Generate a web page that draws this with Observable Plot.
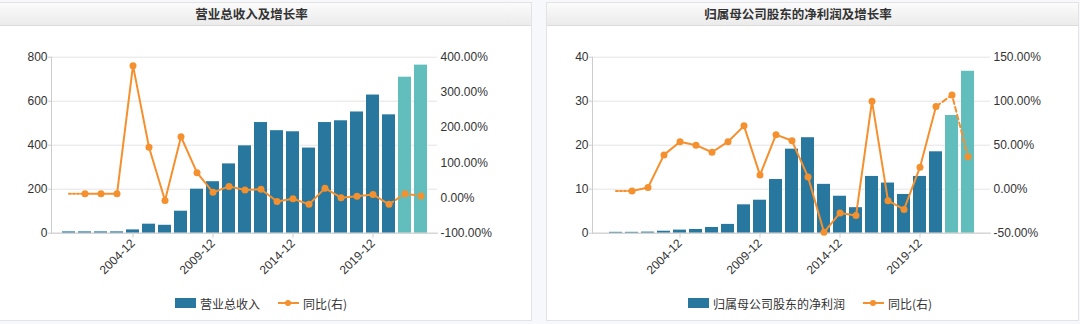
<!DOCTYPE html>
<html>
<head>
<meta charset="utf-8">
<script src="https://cdn.jsdelivr.net/npm/d3@7"></script>
<script src="https://cdn.jsdelivr.net/npm/@observablehq/plot@0.6"></script>
<style>
  html, body { margin: 0; padding: 0; background: #f6f8fb; }
  body { width: 1080px; height: 324px; position: relative; overflow: hidden;
         font-family: "Liberation Sans", Arial, "Noto Sans CJK SC", sans-serif; color: #333; }
  .panel { position: absolute; top: 2px; height: 319px; background: #fff; border: 1px solid #e3e3e3; box-sizing: border-box; }
  .title { position: absolute; left: 0; right: 0; top: 0; height: 23px; line-height: 22px; text-align: center;
           background: linear-gradient(#fbfbfb, #ebebeb); border-bottom: 1px solid #dcdcdc;
           font-family: "Noto Sans CJK SC", sans-serif; font-size: 12.5px; font-weight: bold; color: #333; box-sizing: border-box; }
  .chart { position: absolute; top: 23px; left: 0; }
  .legend { position: absolute; top: 294px; height: 18px; display: flex; align-items: center; font-size: 12px;
            font-family: "Noto Sans CJK SC", sans-serif; color: #333; white-space: nowrap; }
  .sw { width: 21px; height: 10px; display: inline-block; margin-right: 4px; }
  .ln { width: 21px; height: 10px; display: inline-block; margin-right: 4px; position: relative; }
  .ln::before { content: ""; position: absolute; left: 0; right: 0; top: 4px; height: 2px; background: #f5902e; }
  .ln::after { content: ""; position: absolute; left: 7px; top: 2px; width: 6px; height: 6px; border-radius: 50%; background: #f5902e; }
  .gap { width: 18px; display: inline-block; }
</style>
</head>
<body>
<div class="panel" id="p1" style="left:-1px; width:533px;">
  <div class="title" style="padding-right:28px;">营业总收入及增长率</div>
  <div class="chart" id="c1"></div>
</div>
<div class="legend" style="left:175px;"><span class="sw" style="background:#28779f"></span>营业总收入<span class="gap"></span><span class="ln"></span>同比(右)</div>
<div class="panel" id="p2" style="left:546px; width:533px;">
  <div class="title" style="padding-right:29px;">归属母公司股东的净利润及增长率</div>
  <div class="chart" id="c2"></div>
</div>
<div class="legend" style="left:688px;"><span class="sw" style="background:#28779f"></span>归属母公司股东的净利润<span class="gap"></span><span class="ln"></span>同比(右)</div>

<script>
// ---- data ----
const years = ["2000-12","2001-12","2002-12","2003-12","2004-12","2005-12","2006-12","2007-12","2008-12","2009-12",
               "2010-12","2011-12","2012-12","2013-12","2014-12","2015-12","2016-12","2017-12","2018-12","2019-12",
               "2020-12","2021-12","2022-12"];
const forecastYears = ["2021-12","2022-12"];
const tickYears = ["2004-12","2009-12","2014-12","2019-12"];

const revenue = [6,6,6,6,15,41,36,100,200,234,315,397,503,466,461,387,503,511,551,628,538,709,764];
const revenueGrowth = [null,12,12,12,376,144,-7,174,72,16,33,23,25,-10,-2,-18,28,1,5,10,-18,12,6];
const revenueLeftTicks = [0,200,400,600,800];
const revenueRightTicks = [-100,0,100,200,300,400];

const profit = [0.2,0.2,0.25,0.45,0.7,0.85,1.3,2.0,6.45,7.5,12.2,19.1,21.7,11.1,8.4,5.8,12.9,11.4,8.8,12.9,18.5,26.75,36.8];
const profitGrowth = [null,-2,2,39,54,50,42,54,72,16,62,55,14,-49,-27,-30,100,-13,-23,25,94,107,37];
const profitLeftTicks = [0,10,20,30,40];
const profitRightTicks = [-50,0,50,100,150];

const BLUE = "#28779f", TEAL = "#62bdbd", ORANGE = "#f5902e";

function panel({values, growth, leftTicks, rightTicks, width, marginLeft, marginRight, paddingOuter}) {
  const leftMax = leftTicks[leftTicks.length - 1];
  const rMin = rightTicks[0], rMax = rightTicks[rightTicks.length - 1];
  const k = leftMax / (rMax - rMin);
  const toLeft = g => (g - rMin) * k;
  const rows = years.map((y, i) => ({year: y, v: values[i], g: growth[i], forecast: forecastYears.includes(y)}));
  const withG = rows.filter(d => d.g != null);
  const solid = withG.filter(d => !d.forecast);
  const dashed = [solid[solid.length - 1], ...withG.filter(d => d.forecast)];
  const lead = [{year: years[0], g: solid[0].g}, solid[0]];
  const gy = d => toLeft(d.g);
  return Plot.plot({
    width, height: 255,
    marginTop: 30.7, marginBottom: 48.3, marginLeft, marginRight,
    style: {fontSize: "12px", fontFamily: "'Liberation Sans', Arial, sans-serif", color: "#333", background: "transparent"},
    x: {type: "band", domain: years, paddingInner: 0.2, paddingOuter},
    y: {domain: [0, leftMax]},
    marks: [
      Plot.gridY(leftTicks, {stroke: "#e4e4e4", strokeOpacity: 1}),
      Plot.barY(rows.filter(d => !d.forecast), {x: "year", y: "v", fill: BLUE}),
      Plot.barY(rows.filter(d => d.forecast), {x: "year", y: "v", fill: TEAL}),
      Plot.frame({anchor: "left", stroke: "#cccccc"}),
      Plot.frame({anchor: "bottom", stroke: "#cccccc"}),
      Plot.line(lead, {x: "year", y: gy, stroke: ORANGE, strokeWidth: 2, strokeDasharray: "2,2"}),
      Plot.line(solid, {x: "year", y: gy, stroke: ORANGE, strokeWidth: 2}),
      Plot.line(dashed, {x: "year", y: gy, stroke: ORANGE, strokeWidth: 2, strokeDasharray: "5,3"}),
      Plot.dot(withG, {x: "year", y: gy, r: 3.5, fill: ORANGE, stroke: "none"}),
      Plot.axisY(leftTicks, {anchor: "left", tickSize: 3, tickPadding: 1, stroke: "#cccccc", fill: "#333", label: null}),
      Plot.axisY(rightTicks.map(toLeft), {anchor: "right", tickSize: 0, tickPadding: 3, fill: "#333", label: null,
        tickFormat: d => (d / k + rMin).toFixed(2) + "%"}),
      Plot.axisX(tickYears, {anchor: "bottom", tickRotate: -45, tickSize: 5, tickPadding: 3, stroke: "#cccccc", fill: "#333", label: null})
    ]
  });
}

document.getElementById("c1").appendChild(panel({
  values: revenue, growth: revenueGrowth, leftTicks: revenueLeftTicks, rightTicks: revenueRightTicks,
  width: 531, marginLeft: 51, marginRight: 94, paddingOuter: 0.57
}));
document.getElementById("c2").appendChild(panel({
  values: profit, growth: profitGrowth, leftTicks: profitLeftTicks, rightTicks: profitRightTicks,
  width: 531, marginLeft: 45, marginRight: 88, paddingOuter: 0.49
}));
</script>
</body>
</html>
